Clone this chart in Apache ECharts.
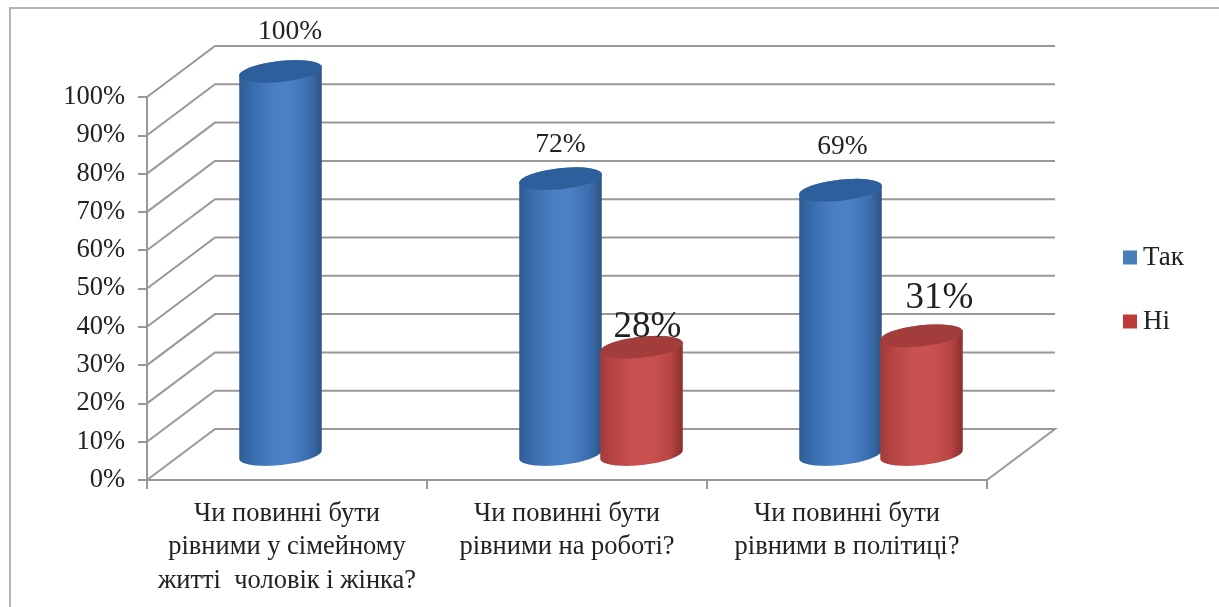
<!DOCTYPE html>
<html>
<head>
<meta charset="utf-8">
<style>
  html, body { margin: 0; padding: 0; background: #fff; }
  #chart { width: 1219px; height: 607px; }
</style>
<script src="https://cdn.jsdelivr.net/npm/echarts@6/dist/echarts.min.js"></script>
</head>
<body>
<div id="chart"></div>
<script>
var categories = [
  "Чи повинні бути\nрівними у сімейному\nжитті  чоловік і жінка?",
  "Чи повинні бути\nрівними на роботі?",
  "Чи повинні бути\nрівними в політиці?"
];
var tak = [100, 72, 69];
var ni = [0, 28, 31];
var ticks = [0, 10, 20, 30, 40, 50, 60, 70, 80, 90, 100];

var font = '"Liberation Serif", "Times New Roman", serif';
var textColor = "#222";
var wallColor = "#989898";
// depth of the fake 3d box, in pixels
var depthX = 68;
var depthY = -51;
var barHalf = 41.5;
var barShift = 40.5;
var tilt = 0.11;
var ry = 10.5;

// hand placed labels in the original, so they need a nudge per point
var takNudge = [[9.5, -39.5], [0, -33.5], [2, -43]];
var niNudge = [[0, 0], [6, -20], [18, -37]];

function ellipsePoints(cx, cy, from, to) {
  var pts = [];
  for (var i = 0; i <= 40; i++) {
    var t = from + (to - from) * i / 40;
    var ex = barHalf * Math.cos(t);
    var ey = ry * Math.sin(t);
    pts.push([
      cx + ex * Math.cos(tilt) + ey * Math.sin(tilt),
      cy - ex * Math.sin(tilt) + ey * Math.cos(tilt)
    ]);
  }
  return pts;
}

function hGrad(look) {
  return {
    type: "linear", x: 0, y: 0, x2: 1, y2: 0,
    colorStops: [
      { offset: 0, color: look.edgeL },
      { offset: 0.18, color: look.side },
      { offset: 0.42, color: look.mid },
      { offset: 0.62, color: look.mid },
      { offset: 0.85, color: look.side },
      { offset: 1, color: look.edgeR }
    ]
  };
}

function cylinderSeries(name, values, sign, look, labelSize, nudge) {
  return {
    name: name,
    type: "custom",
    color: look.legend,
    z: sign < 0 ? 3 : 4,
    encode: { x: 0, y: 1 },
    data: values.map(function (v, i) { return [i, v]; }),
    renderItem: function (params, api) {
      var v = api.value(1);
      if (!v) return null;
      var i = api.value(0);
      var base = api.coord([i, 0]);
      var top = api.coord([i, v]);
      var cx = base[0] + depthX / 2 + sign * barShift;
      var y0 = base[1] + depthY / 2;
      var y1 = top[1] + depthY / 2;
      // back half of the top rim, then round the lower rim of the base
      var body = ellipsePoints(cx, y1, Math.PI, 2 * Math.PI)
        .concat(ellipsePoints(cx, y0, 0, Math.PI));
      return {
        type: "group",
        children: [
          {
            type: "polygon",
            shape: { points: body },
            style: { fill: hGrad(look) }
          },
          {
            type: "polygon",
            shape: { points: ellipsePoints(cx, y1, 0, 2 * Math.PI) },
            style: { fill: look.top }
          },
          {
            type: "text",
            style: {
              text: v + "%",
              x: cx + nudge[i][0],
              y: y1 + nudge[i][1],
              align: "center",
              verticalAlign: "middle",
              font: labelSize + "px " + font,
              fill: textColor
            }
          }
        ]
      };
    }
  };
}

var wallSeries = {
  type: "custom",
  silent: true,
  z: 1,
  encode: { y: 1 },
  data: ticks.map(function (t) { return [0, t]; }),
  renderItem: function (params, api) {
    var t = api.value(1);
    var gx = params.coordSys.x;
    var gw = params.coordSys.width;
    var y = api.coord([0, t])[1];
    var pts = [[gx, y], [gx + depthX, y + depthY], [gx + gw + depthX, y + depthY]];
    if (t === 0) pts.push([gx + gw, y]);
    return {
      type: "polyline",
      shape: { points: pts },
      style: { stroke: wallColor, lineWidth: 2, fill: null }
    };
  }
};

var chart = echarts.init(document.getElementById("chart"));
chart.setOption({
  animation: false,
  backgroundColor: "#fff",
  graphic: [{
    type: "polyline",
    silent: true,
    shape: { points: [[10, 607], [10, 8], [1219, 8]] },
    style: { fill: null, stroke: "#b4b4b4", lineWidth: 2 }
  }],
  grid: { left: 147, right: 232, top: 97, bottom: 127 },
  legend: {
    orient: "vertical",
    left: 1118,
    top: 239,
    itemWidth: 14,
    itemHeight: 14,
    itemGap: 37,
    icon: "rect",
    data: ["Так", "Ні"],
    textStyle: { fontFamily: font, fontSize: 27, color: textColor, padding: [0, 0, 0, 1] }
  },
  xAxis: {
    type: "category",
    data: categories,
    axisLine: { lineStyle: { color: wallColor, width: 2 } },
    axisTick: { show: true, alignWithLabel: false, length: 9, lineStyle: { color: wallColor, width: 2 } },
    axisLabel: {
      interval: 0,
      margin: 17,
      fontFamily: font,
      fontSize: 26.5,
      lineHeight: 33.5,
      color: textColor
    }
  },
  yAxis: {
    type: "value",
    min: 0,
    max: 100,
    interval: 10,
    axisLine: { show: true, lineStyle: { color: wallColor, width: 2 } },
    axisTick: { show: true, length: 9, lineStyle: { color: wallColor, width: 2 } },
    splitLine: { show: false },
    axisLabel: {
      formatter: "{value}%",
      margin: 22,
      padding: [4, 0, 0, 0],
      fontFamily: font,
      fontSize: 26.5,
      color: textColor
    }
  },
  series: [
    wallSeries,
    cylinderSeries("Так", tak, -1, {
      legend: "#4a7ebb",
      edgeL: "#2f5c96",
      edgeR: "#2c5484",
      side: "#3b6eaf",
      mid: "#4a80c4",
      top: "#2d5f9c"
    }, 27.5, takNudge),
    cylinderSeries("Ні", ni, 1, {
      legend: "#be3a38",
      edgeL: "#a33c3a",
      edgeR: "#8a2e2d",
      side: "#b84644",
      mid: "#c95250",
      top: "#a23d3b"
    }, 37, niNudge)
  ]
});
</script>
</body>
</html>
